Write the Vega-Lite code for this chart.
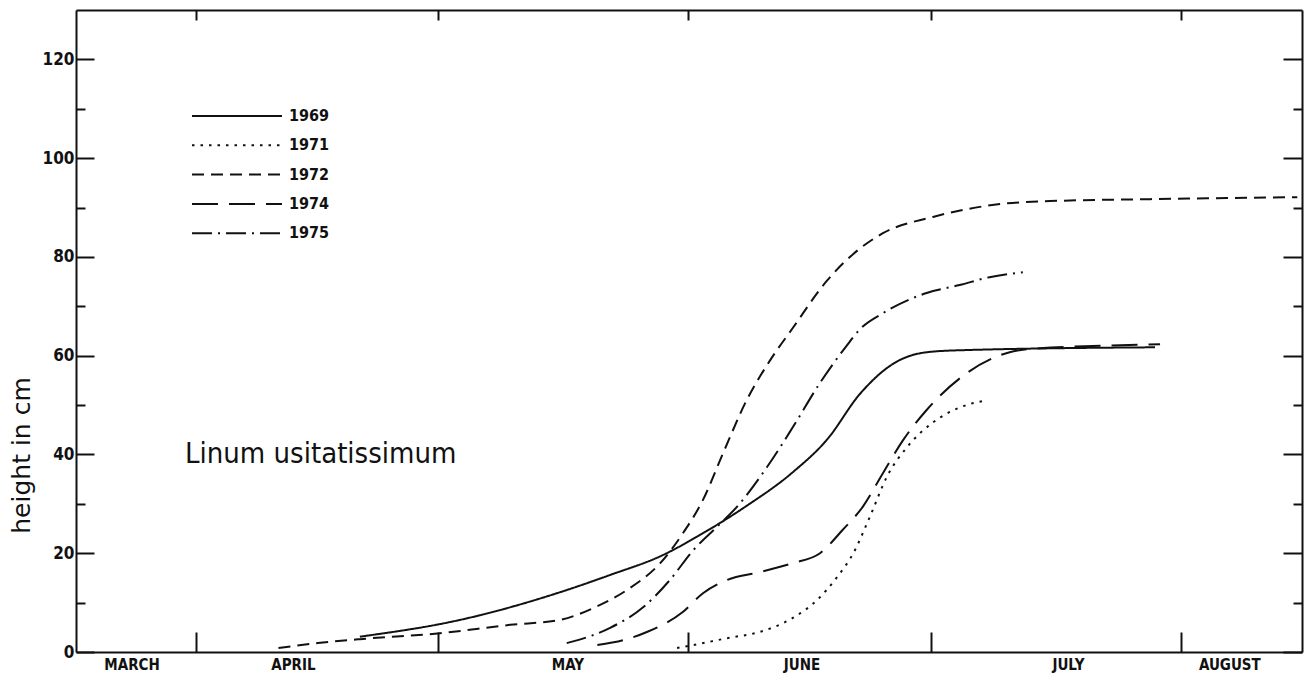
{
  "$schema": "https://vega.github.io/schema/vega-lite/v6.json",
  "width": 1226,
  "height": 642,
  "autosize": "none",
  "padding": {"left": 76, "top": 10, "right": 11, "bottom": 29},
  "background": "white",
  "config": {
    "view": {"stroke": null},
    "axis": {"domainColor": "#111", "domainWidth": 2, "tickColor": "#111", "tickWidth": 2, "grid": false, "labelColor": "#111", "titleColor": "#111"}
  },
  "resolve": {"axis": {"x": "independent", "y": "independent"}},
  "layer": [
    {
      "data": {"values": [
        {"year": "1969", "date": "2001-04-21T07:00", "height": 3.1},
        {"year": "1969", "date": "2001-05-03T17:00", "height": 6.5},
        {"year": "1969", "date": "2001-05-16T02:00", "height": 12.1},
        {"year": "1969", "date": "2001-05-22T07:00", "height": 15.6},
        {"year": "1969", "date": "2001-05-28T19:00", "height": 19.6},
        {"year": "1969", "date": "2001-06-02T10:00", "height": 23.7},
        {"year": "1969", "date": "2001-06-08T05:00", "height": 29.6},
        {"year": "1969", "date": "2001-06-13T22:00", "height": 36.4},
        {"year": "1969", "date": "2001-06-18T05:00", "height": 43.1},
        {"year": "1969", "date": "2001-06-22T05:00", "height": 52.2},
        {"year": "1969", "date": "2001-06-26T07:00", "height": 58.3},
        {"year": "1969", "date": "2001-06-30T12:00", "height": 60.7},
        {"year": "1969", "date": "2001-07-04T14:00", "height": 61.1},
        {"year": "1969", "date": "2001-07-28T19:00", "height": 61.7},

        {"year": "1971", "date": "2001-05-30T14:00", "height": 0.8},
        {"year": "1971", "date": "2001-06-01T14:00", "height": 1.4},
        {"year": "1971", "date": "2001-06-05T19:00", "height": 2.8},
        {"year": "1971", "date": "2001-06-09T22:00", "height": 4.1},
        {"year": "1971", "date": "2001-06-13T22:00", "height": 6.9},
        {"year": "1971", "date": "2001-06-16T22:00", "height": 10.5},
        {"year": "1971", "date": "2001-06-19T10:00", "height": 15.2},
        {"year": "1971", "date": "2001-06-21T10:00", "height": 20.0},
        {"year": "1971", "date": "2001-06-23T12:00", "height": 27.5},
        {"year": "1971", "date": "2001-06-25T14:00", "height": 35.5},
        {"year": "1971", "date": "2001-06-28T02:00", "height": 41.5},
        {"year": "1971", "date": "2001-07-01T07:00", "height": 46.5},
        {"year": "1971", "date": "2001-07-04T14:00", "height": 49.5},
        {"year": "1971", "date": "2001-07-08T02:00", "height": 51.0},

        {"year": "1972", "date": "2001-04-11T05:00", "height": 0.8},
        {"year": "1972", "date": "2001-04-16T02:00", "height": 1.8},
        {"year": "1972", "date": "2001-04-21T07:00", "height": 2.6},
        {"year": "1972", "date": "2001-05-01T05:00", "height": 3.8},
        {"year": "1972", "date": "2001-05-09T22:00", "height": 5.5},
        {"year": "1972", "date": "2001-05-16T02:00", "height": 6.5},
        {"year": "1972", "date": "2001-05-20T05:00", "height": 8.9},
        {"year": "1972", "date": "2001-05-24T10:00", "height": 12.6},
        {"year": "1972", "date": "2001-05-28T12:00", "height": 18.0},
        {"year": "1972", "date": "2001-05-31T07:00", "height": 24.0},
        {"year": "1972", "date": "2001-06-02T19:00", "height": 30.8},
        {"year": "1972", "date": "2001-06-05T07:00", "height": 40.3},
        {"year": "1972", "date": "2001-06-08T05:00", "height": 51.0},
        {"year": "1972", "date": "2001-06-11T02:00", "height": 59.0},
        {"year": "1972", "date": "2001-06-13T22:00", "height": 65.6},
        {"year": "1972", "date": "2001-06-18T05:00", "height": 75.3},
        {"year": "1972", "date": "2001-06-21T10:00", "height": 80.6},
        {"year": "1972", "date": "2001-06-25T02:00", "height": 84.8},
        {"year": "1972", "date": "2001-07-01T07:00", "height": 88.1},
        {"year": "1972", "date": "2001-07-09T14:00", "height": 90.7},
        {"year": "1972", "date": "2001-07-15T19:00", "height": 91.3},
        {"year": "1972", "date": "2001-07-28T05:00", "height": 91.7},
        {"year": "1972", "date": "2001-08-15T10:00", "height": 92.1},

        {"year": "1974", "date": "2001-05-20T17:00", "height": 1.4},
        {"year": "1974", "date": "2001-05-23T22:00", "height": 2.4},
        {"year": "1974", "date": "2001-05-26T22:00", "height": 4.1},
        {"year": "1974", "date": "2001-05-31T07:00", "height": 8.1},
        {"year": "1974", "date": "2001-06-02T19:00", "height": 11.9},
        {"year": "1974", "date": "2001-06-05T19:00", "height": 14.6},
        {"year": "1974", "date": "2001-06-09T22:00", "height": 16.2},
        {"year": "1974", "date": "2001-06-13T22:00", "height": 18.0},
        {"year": "1974", "date": "2001-06-17T07:00", "height": 20.0},
        {"year": "1974", "date": "2001-06-20T02:00", "height": 24.7},
        {"year": "1974", "date": "2001-06-22T14:00", "height": 29.4},
        {"year": "1974", "date": "2001-06-25T02:00", "height": 36.2},
        {"year": "1974", "date": "2001-06-27T14:00", "height": 42.9},
        {"year": "1974", "date": "2001-06-30T12:00", "height": 49.0},
        {"year": "1974", "date": "2001-07-05T12:00", "height": 56.5},
        {"year": "1974", "date": "2001-07-10T19:00", "height": 60.7},
        {"year": "1974", "date": "2001-07-14T12:00", "height": 61.5},
        {"year": "1974", "date": "2001-07-22T00:00", "height": 62.0},
        {"year": "1974", "date": "2001-07-29T10:00", "height": 62.3},

        {"year": "1975", "date": "2001-05-16T22:00", "height": 1.8},
        {"year": "1975", "date": "2001-05-18T07:00", "height": 2.4},
        {"year": "1975", "date": "2001-05-22T07:00", "height": 4.9},
        {"year": "1975", "date": "2001-05-26T10:00", "height": 9.1},
        {"year": "1975", "date": "2001-05-29T17:00", "height": 14.6},
        {"year": "1975", "date": "2001-06-01T14:00", "height": 20.6},
        {"year": "1975", "date": "2001-06-04T12:00", "height": 25.3},
        {"year": "1975", "date": "2001-06-07T00:00", "height": 29.4},
        {"year": "1975", "date": "2001-06-10T17:00", "height": 37.4},
        {"year": "1975", "date": "2001-06-13T22:00", "height": 45.5},
        {"year": "1975", "date": "2001-06-17T07:00", "height": 54.5},
        {"year": "1975", "date": "2001-06-20T14:00", "height": 62.0},
        {"year": "1975", "date": "2001-06-22T05:00", "height": 65.3},
        {"year": "1975", "date": "2001-06-25T02:00", "height": 68.6},
        {"year": "1975", "date": "2001-06-30T12:00", "height": 72.7},
        {"year": "1975", "date": "2001-07-04T14:00", "height": 74.3},
        {"year": "1975", "date": "2001-07-08T07:00", "height": 75.9},
        {"year": "1975", "date": "2001-07-12T10:00", "height": 76.9}
      ]},
      "mark": {"type": "line", "interpolate": "monotone", "strokeWidth": 2, "color": "#111"},
      "encoding": {
        "x": {
          "field": "date", "type": "temporal",
          "scale": {"domain": [{"year": 2001, "month": 3, "date": 17, "hours": 3}, {"year": 2001, "month": 8, "date": 16}]},
          "axis": {
            "orient": "bottom", "title": null,
            "values": [
              {"year": 2001, "month": 3, "date": 24},
              {"year": 2001, "month": 4, "date": 1},
              {"year": 2001, "month": 4, "date": 13},
              {"year": 2001, "month": 5, "date": 1},
              {"year": 2001, "month": 5, "date": 17},
              {"year": 2001, "month": 6, "date": 1},
              {"year": 2001, "month": 6, "date": 15},
              {"year": 2001, "month": 7, "date": 1},
              {"year": 2001, "month": 7, "date": 18},
              {"year": 2001, "month": 8, "date": 1},
              {"year": 2001, "month": 8, "date": 7}
            ],
            "tickSize": -20,
            "tickOpacity": {"condition": {"test": "date(datum.value) === 1", "value": 1}, "value": 0},
            "labelExpr": "date(datum.value) === 1 ? '' : upper(timeFormat(datum.value, '%B'))",
            "labelOverlap": false,
            "labelFlush": false,
            "labelPadding": 25,
            "labelBaseline": "top",
            "labelFont": "DejaVu Sans Condensed",
            "labelFontWeight": "bold",
            "labelFontSize": 15
          }
        },
        "y": {
          "field": "height", "type": "quantitative",
          "scale": {"domain": [0, 130], "nice": false},
          "axis": {
            "orient": "left",
            "values": [0, 10, 20, 30, 40, 50, 60, 70, 80, 90, 100, 110, 120],
            "tickSize": {"condition": {"test": "datum.value % 20 === 0", "value": -18}, "value": -9},
            "labelExpr": "datum.value % 20 === 0 ? datum.label : ''",
            "labelPadding": 20,
            "labelFont": "DejaVu Sans Condensed",
            "labelFontWeight": "bold",
            "labelFontSize": 17,
            "title": "height in cm",
            "titleFont": "DejaVu Sans",
            "titleFontWeight": "normal",
            "titleFontSize": 25,
            "titleAngle": -90,
            "titleAlign": "center",
            "titleBaseline": "middle",
            "titleX": -55,
            "titleY": 445
          }
        },
        "strokeDash": {
          "field": "year", "type": "nominal",
          "scale": {
            "domain": ["1969", "1971", "1972", "1974", "1975"],
            "range": [[1, 0], [2.5, 6], [12, 7], [26, 11], [20, 6, 2, 6]]
          },
          "legend": {
            "orient": "none", "legendX": 115, "legendY": 90,
            "title": null,
            "symbolType": "M-1,0H5",
            "symbolSize": 900,
            "symbolStrokeWidth": 2,
            "symbolStrokeColor": "#111",
            "labelFont": "DejaVu Sans Condensed",
            "labelFontWeight": "bold",
            "labelFontSize": 16,
            "labelColor": "#111",
            "labelOffset": 66,
            "rowPadding": 5.3
          }
        }
      }
    },
    {
      "data": {"values": [{"label": "Linum usitatissimum", "date": "2001-03-30T15:00", "height": 40}]},
      "mark": {"type": "text", "align": "left", "baseline": "middle", "font": "DejaVu Sans Condensed", "fontSize": 29, "fontWeight": "normal", "color": "#111"},
      "encoding": {
        "text": {"field": "label"},
        "x": {
          "field": "date", "type": "temporal",
          "axis": {
            "orient": "top", "title": null, "labels": false,
            "values": [
              {"year": 2001, "month": 4, "date": 1},
              {"year": 2001, "month": 5, "date": 1},
              {"year": 2001, "month": 6, "date": 1},
              {"year": 2001, "month": 7, "date": 1},
              {"year": 2001, "month": 8, "date": 1}
            ],
            "tickSize": -10
          }
        },
        "y": {
          "field": "height", "type": "quantitative",
          "axis": {
            "orient": "right", "title": null, "labels": false,
            "values": [0, 10, 20, 30, 40, 50, 60, 70, 80, 90, 100, 110, 120],
            "tickSize": {"condition": {"test": "datum.value % 20 === 0", "value": -19}, "value": -9}
          }
        }
      }
    }
  ]
}
